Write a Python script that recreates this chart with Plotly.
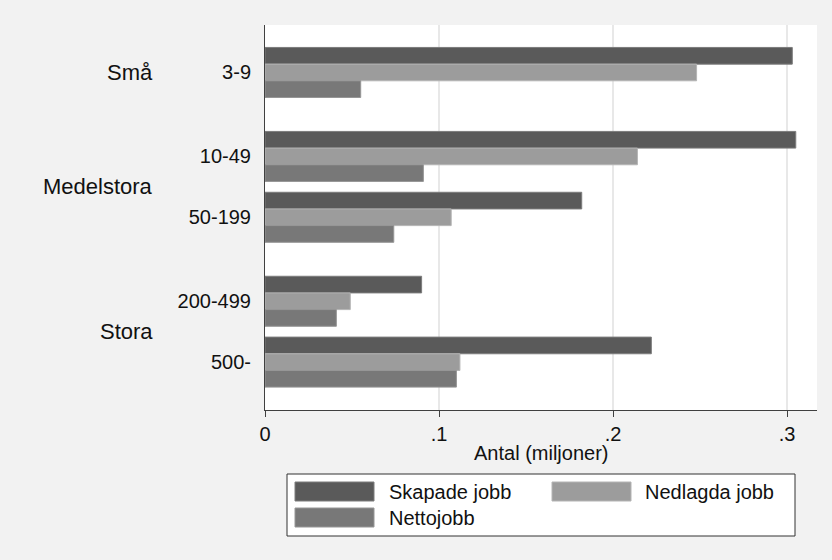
import plotly.graph_objects as go

# data (millions of jobs)
groups = ["Små", "Medelstora", "Medelstora", "Stora", "Stora"]
sizes = ["3-9", "10-49", "50-199", "200-499", "500-"]
skapade = [0.303, 0.305, 0.182, 0.090, 0.222]
nedlagda = [0.248, 0.214, 0.107, 0.049, 0.112]
netto = [0.055, 0.091, 0.074, 0.041, 0.110]
series_names = ["Skapade jobb", "Nedlagda jobb", "Nettojobb"]
x_ticks = [0, 0.1, 0.2, 0.3]
x_ticktext = ["0", ".1", ".2", ".3"]

colors = ["#5a5a5a", "#9c9c9c", "#787878"]
edges = ["#7c7c7c", "#b4b4b4", "#969696"]
FONT = "Liberation Sans, Arial, sans-serif"

# y position of each size class: one slot per class, extra gap between groups
group_gap = 0.38
group_order = list(dict.fromkeys(groups))
ypos = [i + group_gap * group_order.index(g) for i, g in enumerate(groups)]

W, H = 832, 560
L, R, T, B = 265, 817, 25, 410  # plot area in pixels


def px(x):
    return (x - L) / (R - L)


def py(y):
    return (B - y) / (B - T)


fig = go.Figure()
for name, vals, c, e in zip(series_names, [skapade, nedlagda, netto], colors, edges):
    fig.add_trace(go.Bar(
        x=vals, y=ypos, name=name, orientation="h",
        marker=dict(color=c, line=dict(color=e, width=1)),
        showlegend=False,
    ))

# group labels
for g in group_order:
    ys = [p for p, gg in zip(ypos, groups) if gg == g]
    fig.add_annotation(
        x=px(155), xref="paper", y=sum(ys) / len(ys), yref="y",
        text=g, showarrow=False, xanchor="right", yanchor="middle",
        font=dict(size=22, color="#111111", family=FONT),
    )

# axis title
fig.add_annotation(
    x=0.5, xref="paper", y=py(453), yref="paper", text="Antal (miljoner)",
    showarrow=False, xanchor="center", yanchor="middle",
    font=dict(size=20, color="#111111", family=FONT),
)

# legend drawn by hand (Stata style wide swatches)
shapes = [dict(type="rect", xref="paper", yref="paper",
               x0=px(287), x1=px(795), y0=py(536), y1=py(474),
               fillcolor="white", line=dict(color="#333333", width=1))]
leg_pos = [(295, 482, 387), (552, 482, 643), (295, 508, 387)]
for (sx, sy, tx), name, c, e in zip(leg_pos, series_names, colors, edges):
    shapes.append(dict(type="rect", xref="paper", yref="paper",
                       x0=px(sx), x1=px(sx + 79), y0=py(sy + 19), y1=py(sy),
                       fillcolor=c, line=dict(color=e, width=1)))
    fig.add_annotation(
        x=px(tx), xref="paper", y=py(sy + 9.5), yref="paper", text=name,
        showarrow=False, xanchor="left", yanchor="middle",
        font=dict(size=20, color="#111111", family=FONT),
    )

fig.update_layout(
    width=W, height=H,
    margin=dict(l=L, r=W - R, t=T, b=H - B),
    paper_bgcolor="#f2f2f2", plot_bgcolor="white",
    barmode="group", bargap=0.178, bargroupgap=0,
    font=dict(family=FONT, size=20, color="#111111"),
    shapes=shapes,
)
fig.update_xaxes(
    range=[0, 0.3172], tickvals=x_ticks, ticktext=x_ticktext,
    showgrid=True, gridcolor="#e8e8e8", gridwidth=1.5, zeroline=False,
    showline=True, linecolor="#404040", linewidth=1,
    ticks="outside", ticklen=6, tickcolor="#404040",
    tickfont=dict(size=20),
)
fig.update_yaxes(
    range=[ypos[-1] + 0.787, -0.78], tickvals=ypos, ticktext=sizes,
    showgrid=False, zeroline=False,
    showline=True, linecolor="#404040", linewidth=1,
    ticks="", ticklabelstandoff=9, tickfont=dict(size=20),
)

fig.write_html("out.html", config={"displayModeBar": False},
               post_script="document.body.style.margin='0';")
